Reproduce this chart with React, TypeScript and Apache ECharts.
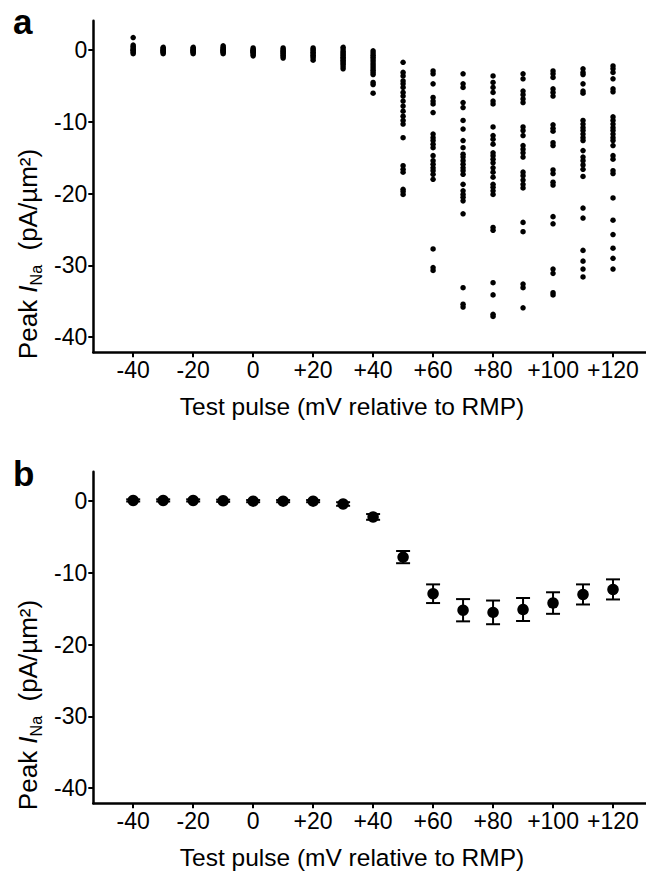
import React, { useEffect, useRef } from "react";
import * as echarts from "echarts";

// Test pulses (mV relative to RMP)
const pulses = [-40, -30, -20, -10, 0, 10, 20, 30, 40, 50, 60, 70, 80, 90, 100, 110, 120];

// Panel a: individual cells' peak INa (pA/µm²) per pulse
const cellPeaks: number[][] = [
  [1.75, 0.7, 0.5, 0.3, 0.1, 0.0, -0.1, -0.3, -0.5],
  [0.4, 0.2, 0.1, 0.0, -0.1, -0.2, -0.3, -0.5],
  [0.4, 0.2, 0.1, 0.0, -0.1, -0.2, -0.3, -0.5],
  [0.6, 0.4, 0.2, 0.1, 0.0, -0.1, -0.2, -0.3, -0.5],
  [0.3, 0.1, 0.0, -0.1, -0.2, -0.3, -0.4, -0.6, -0.8],
  [0.3, 0.1, -0.1, -0.2, -0.4, -0.5, -0.7, -0.9, -1.1],
  [0.3, 0.1, -0.1, -0.3, -0.5, -0.7, -0.9, -1.1, -1.4],
  [0.4, 0.1, -0.2, -0.4, -0.6, -0.8, -1.0, -1.2, -1.4, -1.6, -1.8, -2.0, -2.3, -2.6],
  [-0.1, -0.4, -0.7, -1.0, -1.3, -1.6, -1.9, -2.2, -2.5, -2.8, -3.1, -3.4, -4.5, -4.8, -6.0],
  [-1.7, -3.1, -3.6, -4.3, -4.7, -5.2, -5.9, -6.4, -7.1, -7.8, -8.5, -9.2, -9.8, -10.3, -12.2, -16.1, -16.6, -17.0, -19.4, -19.7, -20.1],
  [-2.9, -3.3, -4.7, -6.6, -7.1, -7.5, -8.7, -11.7, -12.2, -12.6, -13.1, -13.6, -14.7, -15.4, -15.9, -16.4, -16.8, -17.3, -18.0, -27.7, -30.3, -30.7],
  [-3.3, -4.7, -5.2, -7.3, -8.0, -9.8, -11.0, -12.6, -13.6, -14.5, -14.9, -15.4, -15.9, -16.4, -16.8, -17.3, -18.7, -19.6, -20.1, -20.5, -21.0, -22.8, -33.1, -35.4, -35.8],
  [-3.6, -4.5, -5.2, -5.9, -7.1, -7.5, -10.7, -11.9, -12.4, -13.1, -14.3, -14.7, -15.2, -15.7, -16.4, -17.0, -17.7, -18.7, -19.1, -19.6, -20.1, -24.7, -25.1, -32.4, -34.1, -36.8, -37.1],
  [-3.3, -4.0, -5.7, -6.2, -6.8, -7.3, -10.7, -11.2, -11.9, -13.3, -13.8, -14.3, -14.9, -17.0, -17.5, -18.1, -18.7, -19.2, -24.0, -25.3, -32.6, -33.1, -35.9],
  [-2.9, -3.3, -3.8, -5.4, -5.9, -6.4, -10.4, -10.9, -11.3, -12.9, -13.3, -16.7, -17.2, -18.4, -18.8, -23.2, -24.2, -30.5, -31.1, -33.8, -34.1],
  [-2.6, -3.1, -3.4, -4.7, -5.7, -6.0, -9.8, -10.3, -10.8, -11.2, -11.7, -12.2, -12.6, -14.0, -14.9, -15.4, -16.0, -16.6, -17.6, -22.0, -23.4, -27.9, -29.4, -30.5, -31.6],
  [-2.2, -2.6, -3.1, -4.0, -5.4, -5.8, -9.3, -9.8, -10.3, -10.8, -11.2, -11.7, -12.2, -12.6, -13.3, -14.7, -15.2, -16.8, -17.2, -20.6, -23.7, -25.7, -27.6, -29.0, -30.5],
];

// Panel b: mean peak INa and standard error
const meanPeak = [0.1, 0.1, 0.1, 0.05, 0.0, 0.0, 0.0, -0.4, -2.2, -7.8, -12.9, -15.2, -15.5, -15.1, -14.2, -13.0, -12.3];
const semPeak = [0.15, 0.15, 0.15, 0.15, 0.15, 0.15, 0.15, 0.25, 0.4, 0.85, 1.3, 1.55, 1.65, 1.6, 1.5, 1.4, 1.4];

const xTicks = [-40, -20, 0, 20, 40, 60, 80, 100, 120];
const yTicks = [-40, -30, -20, -10, 0];

const FONT = "Liberation Sans, Arial, sans-serif";

function xLabel(v: number) {
  return v > 0 ? "+" + v : String(v);
}

function makeXAxis(gridIndex: number) {
  return {
    type: "value",
    gridIndex,
    min: -53.3,
    max: 131,
    splitLine: { show: false },
    axisLine: { show: true, onZero: false, lineStyle: { color: "#000", width: 2.5 } },
    axisTick: { show: true, length: 5, inside: false, customValues: xTicks, lineStyle: { color: "#000", width: 2 } },
    axisLabel: {
      customValues: xTicks,
      formatter: xLabel,
      color: "#000",
      fontSize: 23,
      fontFamily: FONT,
      margin: 6,
    },
  };
}

function makeYAxis(gridIndex: number) {
  return {
    type: "value",
    gridIndex,
    min: -42.1,
    max: 4.1,
    splitLine: { show: false },
    axisLine: { show: true, onZero: false, lineStyle: { color: "#000", width: 2.5 } },
    axisTick: { show: true, length: 5, customValues: yTicks, lineStyle: { color: "#000", width: 2 } },
    axisLabel: {
      customValues: yTicks,
      color: "#000",
      fontSize: 23,
      fontFamily: FONT,
      margin: 6,
    },
  };
}

const scatterA: number[][] = [];
pulses.forEach((p, i) => {
  cellPeaks[i].forEach((v) => scatterA.push([p, v]));
});

const meanData = pulses.map((p, i) => [p, meanPeak[i]]);
const errData = pulses.map((p, i) => [p, meanPeak[i] - semPeak[i], meanPeak[i] + semPeak[i]]);

function yTitle(cy: number) {
  return {
    type: "text",
    x: 28,
    y: cy,
    rotation: Math.PI / 2,
    style: {
      text: "{n|Peak }{i|I}{s|Na}{n|  (pA/µm²)}",
      align: "center",
      verticalAlign: "middle",
      fill: "#000",
      fontFamily: FONT,
      rich: {
        n: { fontSize: 26, fontFamily: FONT, fill: "#000", lineHeight: 32, verticalAlign: "middle" },
        i: { fontSize: 26, fontFamily: FONT, fontStyle: "italic", fill: "#000", lineHeight: 32, verticalAlign: "middle" },
        s: { fontSize: 16, fontFamily: FONT, fill: "#000", lineHeight: 16, verticalAlign: "bottom" },
      },
    },
  };
}

function xTitle(cy: number) {
  return {
    type: "text",
    x: 352,
    y: cy,
    style: {
      text: "Test pulse (mV relative to RMP)",
      align: "center",
      verticalAlign: "middle",
      fill: "#000",
      fontSize: 24.5,
      fontFamily: FONT,
    },
  };
}

function panelLabel(t: string, cy: number) {
  return {
    type: "text",
    x: 13,
    y: cy,
    style: {
      text: t,
      align: "left",
      verticalAlign: "middle",
      fill: "#000",
      fontSize: 35,
      fontWeight: "bold",
      fontFamily: FONT,
    },
  };
}

export default function App() {
  const ref = useRef<HTMLDivElement>(null);
  useEffect(() => {
    if (!ref.current) return;
    const chart = echarts.init(ref.current, null, { renderer: "svg" });
    chart.setOption({
      animation: false,
      backgroundColor: "#fff",
      grid: [
        { left: 93.3, top: 20.7, right: 0, height: 331.6 },
        { left: 93.3, top: 471.7, right: 0, height: 331.6 },
      ],
      xAxis: [makeXAxis(0), makeXAxis(1)],
      yAxis: [makeYAxis(0), makeYAxis(1)],
      graphic: [
        panelLabel("a", 21),
        panelLabel("b", 473),
        yTitle(254),
        yTitle(705),
        xTitle(406),
        xTitle(857),
      ],
      series: [
        {
          type: "scatter",
          xAxisIndex: 0,
          yAxisIndex: 0,
          data: scatterA,
          symbol: "circle",
          symbolSize: 5.5,
          itemStyle: { color: "#000", opacity: 1 },
          silent: true,
        },
        {
          type: "custom",
          xAxisIndex: 1,
          yAxisIndex: 1,
          data: errData,
          encode: { x: 0, y: [1, 2] },
          silent: true,
          renderItem: (params: any, api: any) => {
            const x = api.value(0);
            const lo = api.coord([x, api.value(1)]);
            const hi = api.coord([x, api.value(2)]);
            const w = 7;
            const st = { stroke: "#000", lineWidth: 2 };
            return {
              type: "group",
              children: [
                { type: "line", shape: { x1: hi[0], y1: hi[1], x2: lo[0], y2: lo[1] }, style: st },
                { type: "line", shape: { x1: hi[0] - w, y1: hi[1], x2: hi[0] + w, y2: hi[1] }, style: st },
                { type: "line", shape: { x1: lo[0] - w, y1: lo[1], x2: lo[0] + w, y2: lo[1] }, style: st },
              ],
            };
          },
          z: 2,
        },
        {
          type: "scatter",
          xAxisIndex: 1,
          yAxisIndex: 1,
          data: meanData,
          symbol: "circle",
          symbolSize: 11.5,
          itemStyle: { color: "#000", opacity: 1 },
          silent: true,
          z: 3,
        },
      ],
    });
    return () => chart.dispose();
  }, []);
  return <div ref={ref} style={{ width: 646, height: 872, position: "absolute", left: 0, top: 0 }} />;
}
